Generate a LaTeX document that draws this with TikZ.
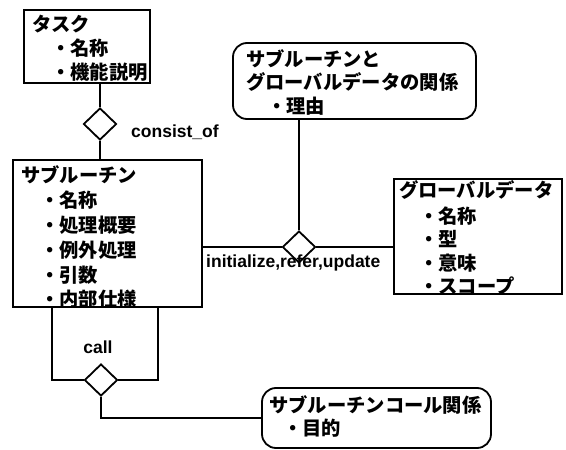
\documentclass[tikz,border=0pt]{standalone}
\usepackage{fontspec}
\setmainfont{Liberation Sans}
\newfontfamily\jp{Noto Sans CJK JP}
\usetikzlibrary{shapes.geometric}
\tikzset{
  ent/.style={draw, line width=1.8pt},
  rel/.style={draw, line width=1.8pt, rounded corners=14pt},
  conn/.style={line width=1.8pt},
  dia/.style={draw, line width=1.8pt, diamond, fill=white, minimum width=33pt, minimum height=32pt, inner sep=0pt},
  jt/.style={anchor=west, inner sep=0pt, font=\jp\bfseries\fontsize{19.3}{21}\selectfont},
  lt/.style={inner sep=0pt, font=\bfseries\fontsize{17.5}{19}\selectfont},
}
\begin{document}
\begin{tikzpicture}[x=1pt,y=-1pt]
\useasboundingbox (0,0) rectangle (566,450);
% boxes
\draw[ent] (24,10) rectangle (150,83);
\coordinate (taskB) at (100,83);
\node[jt] (t1) at (32,24) {タスク};
\node[jt] (t2) at (51,48) {・名称};
\node[jt] (t3) at (51,72) {・機能説明};

\draw[ent] (13,160) rectangle (202,307);
\coordinate (subT) at (100,160);
\coordinate (subR) at (202,247);
\coordinate (subBL) at (52,307);
\coordinate (subBR) at (158,307);
\node[jt] (s1) at (21,175) {サブルーチン};
\node[jt] (s2) at (40,200) {・名称};
\node[jt] (s3) at (40,225) {・処理概要};
\node[jt] (s4) at (40,250) {・例外処理};
\node[jt] (s5) at (40,275) {・引数};
\node[jt] (s6) at (40,299) {・内部仕様};

\draw[rel] (233,43) rectangle (476,119);
\coordinate (relB) at (299,119);
\node[jt] (r1) at (246,59) {サブルーチンと};
\node[jt] (r2) at (246,82) {グローバルデータの関係};
\node[jt] (r3) at (267,106) {・理由};

\draw[ent] (394,179) rectangle (562,294);
\coordinate (glL) at (394,247);
\node[jt] (g1) at (399,190) {グローバルデータ};
\node[jt] (g2) at (419,216) {・名称};
\node[jt] (g3) at (419,239) {・型};
\node[jt] (g4) at (419,263) {・意味};
\node[jt] (g5) at (419,286) {・スコープ};

\draw[rel] (262,388) rectangle (491,448);
\coordinate (scL) at (262,418);
\node[jt] (c1) at (269,405) {サブルーチンコール関係};
\node[jt] (c2) at (283,428) {・目的};

% diamonds
\node[dia] (d1) at (100,124) {};
\node[dia] (d2) at (299,247) {};
\node[dia] (d3) at (101,380) {};

% connectors
\draw[conn] (taskB) -- (d1.north);
\draw[conn] (d1.south) -- (subT);
\draw[conn] (relB) -- (d2.north);
\draw[conn] (subR) -- (d2.west);
\draw[conn] (d2.east) -- (glL);
\draw[conn] (subBL) |- (d3.west);
\draw[conn] (subBR) |- (d3.east);
\draw[conn] (d3.south) |- (scL);

% labels
\node[lt, anchor=west] (l1) at (131,132) {consist\_of};
\node[lt, anchor=west] (l2) at (206,263) {initialize,refer,update};
\node[lt] (l3) at (98,347) {call};
\end{tikzpicture}
\end{document}
